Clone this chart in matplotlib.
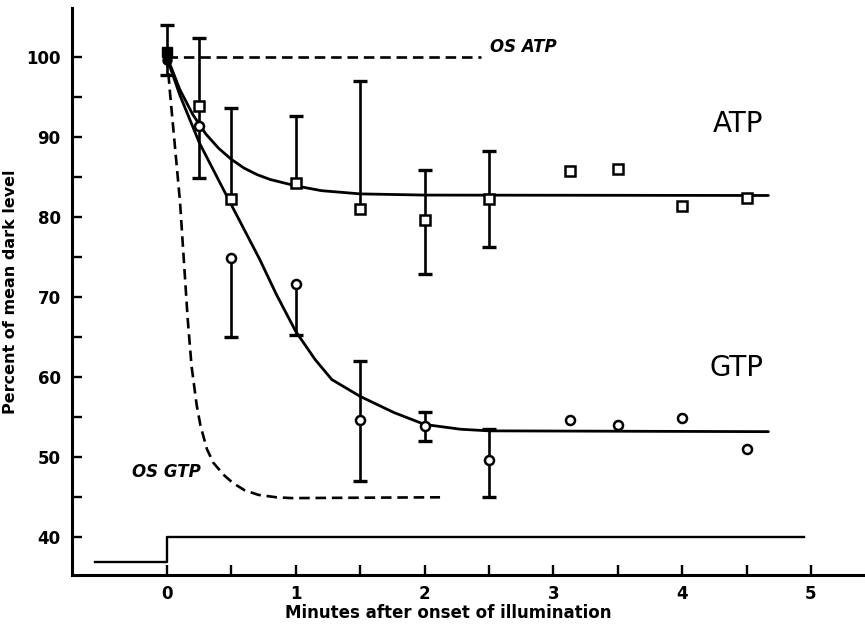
import numpy as np
import matplotlib; matplotlib.use('Agg')
import matplotlib.pyplot as plt

# --- data ---
t_pts = [0, 0.25, 0.5, 1.0, 1.5, 2.0, 2.5, 3.13, 3.5, 4.0, 4.5]

atp_y   = [100.6, 93.9, 82.2, 84.3, 81.0, 79.6, 82.2, 85.8, 86.0, 81.4, 82.4]
atp_lo  = [2.8, 9.0, 0, 0, 0, 6.7, 5.9, 0, 0, 0, 0]
atp_hi  = [3.4, 8.5, 11.4, 8.3, 16.0, 6.3, 6.0, 0, 0, 0, 0]

gtp_y   = [99.6, 91.4, 74.9, 71.7, 54.6, 53.9, 49.6, 54.7, 54.0, 54.9, 51.0]
gtp_lo  = [0, 0, 9.9, 6.4, 7.6, 1.9, 4.5, 0, 0, 0, 0]
gtp_hi  = [0, 0, 0, 0, 7.4, 1.8, 3.9, 0, 0, 0, 0]

# fitted curves
atp_fit_x = [0, 0.1, 0.2, 0.3, 0.4, 0.5, 0.6, 0.7, 0.8, 1.0, 1.2, 1.5, 2.0, 4.67]
atp_fit_y = [100, 95.9, 92.8, 90.4, 88.6, 87.2, 86.1, 85.3, 84.7, 83.9, 83.3, 82.9, 82.75, 82.7]

gtp_fit_x = [0, 0.1, 0.25, 0.5, 0.72, 0.85, 1.0, 1.15, 1.28, 1.5, 1.76, 2.0, 2.28, 2.5, 4.67]
gtp_fit_y = [99.8, 95.2, 89.3, 81.5, 74.7, 70.3, 65.7, 62.2, 59.7, 57.6, 55.6, 54.1, 53.5, 53.3, 53.2]

# outer-segment curves (dashed)
os_atp_x = [0, 2.44]
os_atp_y = [100, 100]
os_gtp_x = [0, 0.02, 0.06, 0.10, 0.16, 0.19, 0.23, 0.26, 0.31, 0.36, 0.44, 0.51, 0.6, 0.71, 0.85, 0.97, 1.5, 2.12]
os_gtp_y = [100, 96, 89, 82, 67.3, 61.4, 56.5, 53.9, 51.0, 49.3, 47.8, 46.8, 45.9, 45.3, 45.0, 44.9, 44.95, 45.0]

# illumination step
stim_x = [-0.56, 0, 0, 4.95]
stim_y = [36.9, 36.9, 40.1, 40.1]

fig = plt.figure(figsize=(8.65, 6.27), dpi=100)
ax = fig.add_axes([0.083, 0.083, 0.917, 0.904])

ax.plot(atp_fit_x, atp_fit_y, color='k', lw=2.0, solid_capstyle='round')
ax.plot(gtp_fit_x, gtp_fit_y, color='k', lw=2.0, solid_capstyle='round')
ax.plot(os_atp_x, os_atp_y, color='k', lw=1.9, dashes=(4, 2.2))
ax.plot(os_gtp_x, os_gtp_y, color='k', lw=1.9, dashes=(4, 2.2))
ax.plot(stim_x, stim_y, color='k', lw=1.7)

# error bars: caps only at the real ends (some bars are one-sided)
def draw_bars(x, y, lo, hi):
    for xi, yi, l, h in zip(x, y, lo, hi):
        if l == 0 and h == 0:
            continue
        ax.plot([xi, xi], [yi - l, yi + h], color='k', lw=1.9, zorder=2)
        if l > 0:
            ax.plot([xi], [yi - l], marker='_', ms=10, mew=2.4, color='k', zorder=2)
        if h > 0:
            ax.plot([xi], [yi + h], marker='_', ms=10, mew=2.4, color='k', zorder=2)

draw_bars(t_pts, atp_y, atp_lo, atp_hi)
draw_bars(t_pts, gtp_y, gtp_lo, gtp_hi)

ax.plot(t_pts[1:], atp_y[1:], ls='none', marker='s', ms=7, mfc='white', mec='k', mew=1.8, zorder=3)
ax.plot(t_pts[1:], gtp_y[1:], ls='none', marker='o', ms=6.5, mfc='white', mec='k', mew=1.8, zorder=3)
ax.plot(t_pts[:1], atp_y[:1], ls='none', marker='s', ms=7, color='k', zorder=3)
ax.plot(t_pts[:1], gtp_y[:1], ls='none', marker='o', ms=6.5, color='k', zorder=3)

ax.text(4.24, 91.6, 'ATP', fontsize=20, va='center', ha='left')
ax.text(4.21, 61.2, 'GTP', fontsize=20, va='center', ha='left')
ax.text(2.51, 101.2, 'OS ATP', fontsize=12, style='italic', fontweight='bold', va='center', ha='left')
ax.text(-0.27, 48.2, 'OS GTP', fontsize=12, style='italic', fontweight='bold', va='center', ha='left')

ax.set_xlim(-0.74, 5.42)
ax.set_ylim(35.3, 106.1)
ax.set_xticks([0, 1, 2, 3, 4, 5])
ax.set_xticks([0.5, 1.5, 2.5, 3.5, 4.5], minor=True)
ax.set_yticks([40, 50, 60, 70, 80, 90, 100])
ax.set_yticks([45, 55, 65, 75, 85, 95], minor=True)
ax.tick_params(which='both', direction='in', length=7, width=1.7, labelsize=12)
ax.tick_params(axis='x', pad=7)
ax.tick_params(axis='y', pad=8)
for lab in ax.get_xticklabels() + ax.get_yticklabels():
    lab.set_fontweight('bold')

for s in ['top', 'right']:
    ax.spines[s].set_visible(False)
for s in ['left', 'bottom']:
    ax.spines[s].set_linewidth(2.2)

ax.set_xlabel('Minutes after onset of illumination', fontsize=12, fontweight='bold')
ax.set_ylabel('Percent of mean dark level', fontsize=11.5, fontweight='bold')
ax.xaxis.set_label_coords(0.474, -0.051)
ax.yaxis.set_label_coords(-0.068, 0.5)

fig.savefig('out.png', dpi=100)
